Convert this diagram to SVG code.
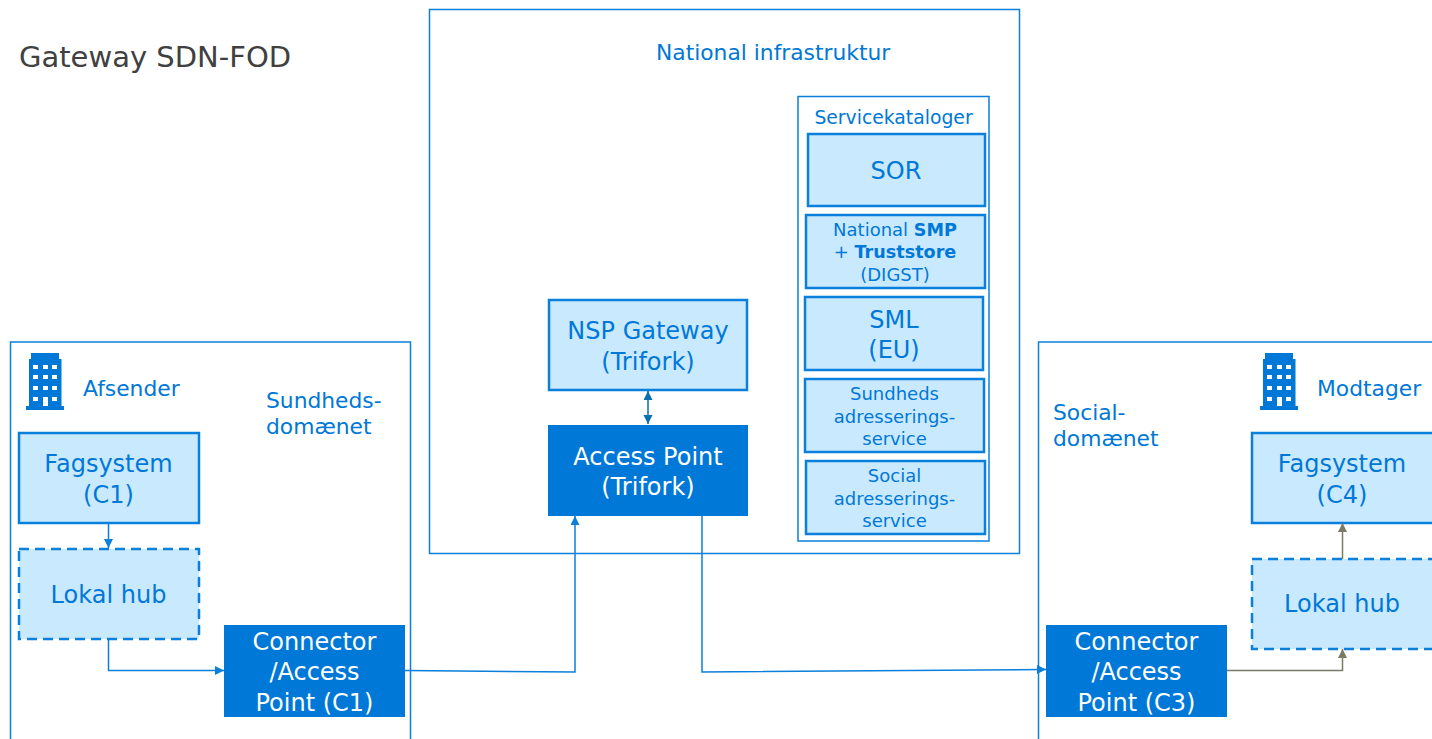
<svg xmlns="http://www.w3.org/2000/svg" width="1432" height="739" viewBox="0 0 1432 739">
<defs>
<style>
text{font-family:"DejaVu Sans",Verdana,sans-serif;text-anchor:middle;fill:#0078d7}
.l{text-anchor:start}
.w{fill:#fff}
.o{fill:#fff;stroke:#0a7fdc;stroke-width:1.5}
.b{fill:#c9e9ff;stroke:#0a7fdc;stroke-width:2.5}
.d{fill:#c9e9ff;stroke:#0a7fdc;stroke-width:2.5;stroke-dasharray:10 6}
.s{fill:#0078d7}
.c{fill:none;stroke:#0a7fdc;stroke-width:1.5}
.g{fill:none;stroke:#7a7a66;stroke-width:1.5}
.t{fill:none;stroke:#0a70b0;stroke-width:1.5}
.f24{font-size:24px}.f20{font-size:21.8px}.f19{font-size:18.8px}.f18{font-size:18px}.fb{font-size:17.6px}
</style>
<marker id="ab" markerWidth="10" markerHeight="10" refX="9" refY="4.500" orient="auto" markerUnits="userSpaceOnUse"><path d="M0 0L9 4.500L0 9Z" fill="#0a7fdc"/></marker>
<marker id="ag" markerWidth="10" markerHeight="10" refX="9" refY="4.500" orient="auto" markerUnits="userSpaceOnUse"><path d="M0 0L9 4.500L0 9Z" fill="#7a7a66"/></marker>
<marker id="at" markerWidth="10" markerHeight="10" refX="9" refY="4.500" orient="auto-start-reverse" markerUnits="userSpaceOnUse"><path d="M0 0L9 4.500L0 9Z" fill="#0a70b0"/></marker>
<path id="bld" d="M0 57V53H3V6H5V0H33V6H35.500V53H38V57ZM7 12V16H12V12ZM17 12V16H22V12ZM26 12V16H31V12ZM7 22V26H12V22ZM17 22V26H22V22ZM26 22V26H31V22ZM7 33V37H12V33ZM17 33V37H22V33ZM26 33V37H31V33ZM7 44V48H12V44ZM17 44V53H22V44ZM26 44V48H31V44Z" fill="#0078d7" fill-rule="evenodd"/>
</defs>
<rect width="1432" height="739" fill="#fff"/>
<text id="title" class="l" x="19" y="67" font-size="29" style="fill:#404040">Gateway SDN-FOD</text>

<g id="sender-domain"><rect class="o" x="10.500" y="342" width="400" height="420"/>
<use href="#bld" x="26" y="353"/>
<text class="l f20" x="83" y="396">Afsender</text>
<text class="l f20" x="266" y="408">Sundheds-</text><text class="l f20" x="266" y="434">domænet</text></g>

<g id="national"><rect class="o" x="429.500" y="9.500" width="590" height="544"/>
<text class="l f20" x="656" y="60">National infrastruktur</text></g>

<g id="receiver-domain"><rect class="o" x="1038.500" y="342" width="420" height="420"/>
<use href="#bld" x="1260" y="353"/>
<text class="l f20" x="1317" y="396">Modtager</text>
<text class="l f20" x="1053" y="420">Social-</text><text class="l f20" x="1053" y="446">domænet</text></g>

<g id="servicekataloger"><rect class="o" x="798" y="96.500" width="191" height="444.500"/>
<text class="f19" x="893.500" y="124">Servicekataloger</text></g>

<g id="sor"><rect class="b" x="808" y="134" width="177" height="72"/><text class="f24" x="896" y="179">SOR</text></g>
<g id="smp"><rect class="b" x="806" y="215" width="179" height="73"/>
<text class="f18" x="895" y="236">National <tspan font-weight="bold" class="fb">SMP</tspan></text>
<text class="f18" x="895" y="258">+ <tspan font-weight="bold" class="fb">Truststore</tspan></text>
<text class="f18" x="895" y="281">(DIGST)</text></g>
<g id="sml"><rect class="b" x="805" y="297" width="178" height="73"/><text class="f24" x="894" y="328">SML</text><text class="f24" x="894" y="358">(EU)</text></g>
<g id="sundheds"><rect class="b" x="805" y="379" width="179" height="73"/>
<text class="f18" x="894.500" y="400">Sundheds</text><text class="f18" x="894.500" y="423">adresserings-</text><text class="f18" x="894.500" y="445">service</text></g>
<g id="social"><rect class="b" x="806" y="461" width="179" height="73"/>
<text class="f18" x="894.500" y="482">Social</text><text class="f18" x="894.500" y="505">adresserings-</text><text class="f18" x="894.500" y="527">service</text></g>

<g id="nsp-gateway"><rect class="b" x="549" y="300" width="198" height="90"/><text class="f24" x="648" y="339">NSP Gateway</text><text class="f24" x="648" y="370">(Trifork)</text></g>
<g id="access-point"><rect class="s" x="548" y="425" width="200" height="91"/><text class="f24 w" x="648" y="465">Access Point</text><text class="f24 w" x="648" y="495">(Trifork)</text></g>

<g id="fagsystem-c1"><rect class="b" x="19" y="433" width="180" height="90"/><text class="f24" x="108.500" y="472">Fagsystem</text><text class="f24" x="108.500" y="503">(C1)</text></g>
<g id="hub-1"><rect class="d" x="19" y="549" width="180" height="90"/><text class="f24" x="108.500" y="603">Lokal hub</text></g>
<g id="connector-c1"><rect class="s" x="224" y="625" width="181" height="92"/><text class="f24 w" x="314.500" y="650">Connector</text><text class="f24 w" x="314.500" y="680">/Access</text><text class="f24 w" x="314.500" y="711">Point (C1)</text></g>

<g id="connector-c3"><rect class="s" x="1046" y="625" width="181" height="92"/><text class="f24 w" x="1136.500" y="650">Connector</text><text class="f24 w" x="1136.500" y="680">/Access</text><text class="f24 w" x="1136.500" y="711">Point (C3)</text></g>
<g id="fagsystem-c4"><rect class="b" x="1252" y="433" width="190" height="90"/><text class="f24" x="1342" y="472">Fagsystem</text><text class="f24" x="1342" y="503">(C4)</text></g>
<g id="hub-2"><rect class="d" x="1252" y="559" width="190" height="90"/><text class="f24" x="1342" y="612">Lokal hub</text></g>

<g id="connectors">
<path class="c" marker-end="url(#ab)" d="M108.500 523V548"/>
<path class="c" marker-end="url(#ab)" d="M108.500 639V670.500H224"/>
<path class="c" marker-end="url(#ab)" d="M405 670.500L575 672V516"/>
<path class="c" marker-end="url(#ab)" d="M702 516V672L1046 669.500"/>
<path class="g" marker-end="url(#ag)" d="M1227 670.500H1342.500V649"/>
<path class="g" marker-end="url(#ag)" d="M1342.500 559V523"/>
<path class="t" marker-start="url(#at)" marker-end="url(#at)" d="M648 391V424"/>
</g>
</svg>
